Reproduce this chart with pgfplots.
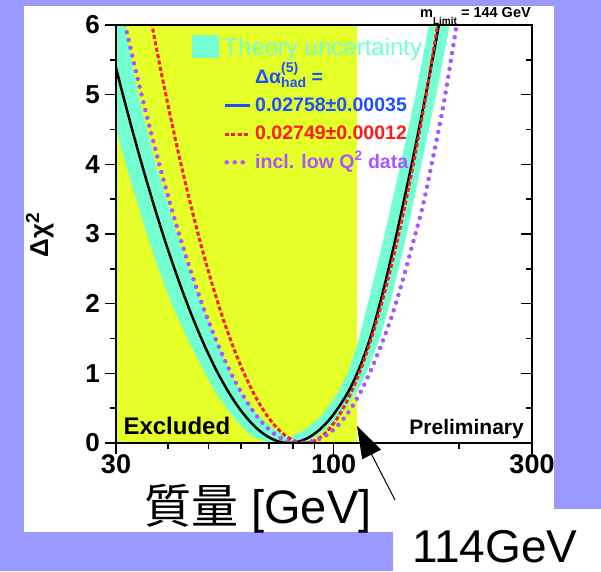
\documentclass[border=0pt]{standalone}
\usepackage{fontspec}
\setmainfont{Liberation Sans}
\newfontfamily\cjk{Noto Sans CJK JP}
\usepackage{pgfplots}
\pgfplotsset{compat=1.18}
\usetikzlibrary{arrows.meta}
\definecolor{lav}{RGB}{153,153,255}
\definecolor{exyel}{RGB}{229,255,40}
\definecolor{band}{RGB}{115,255,210}
\definecolor{cred}{RGB}{255,25,25}
\definecolor{cpurp}{RGB}{170,85,255}
\definecolor{cblue}{RGB}{30,80,255}
\begin{document}
\begin{tikzpicture}
\path[use as bounding box] (0,0) rectangle (601pt,571pt);
\fill[lav] (0,0) rectangle (601pt,571pt);
\fill[white] (24pt,39pt) rectangle (554pt,565pt);
\fill[white] (393pt,0pt) rectangle (601pt,62pt);
\begin{axis}[
  at={(116pt,128pt)}, anchor=south west,
  width=416pt, height=418pt, scale only axis,
  xmode=log, xmin=30, xmax=300, ymin=0, ymax=6,
  xtick={30,100,300}, xticklabels={\textbf{30},\textbf{100},\textbf{300}},
  minor xtick={40,50,60,70,80,90,200},
  ytick={0,1,2,3,4,5,6},
  yticklabels={\textbf{0},\textbf{1},\textbf{2},\textbf{3},\textbf{4},\textbf{5},\textbf{6}},
  minor ytick={0.5,1.5,2.5,3.5,4.5,5.5},
  xtick pos=bottom, ytick pos=left,
  tick align=outside,
  major tick length=11pt, minor tick length=6pt,
  tick style={black, line width=1.5pt},
  axis line style={line width=2pt},
  axis on top,
  xticklabel style={anchor=north, inner sep=0pt, font=\fontsize{27}{27}\selectfont},
  yticklabel style={anchor=east, inner sep=0pt, xshift=-5pt, font=\fontsize{26}{26}\selectfont},
  legend cell align=left,
  legend style={draw=none, fill=none, at={(0,1)}, anchor=north west,
    xshift=107pt, yshift=-10pt, inner sep=0pt, column sep=4pt, row sep=0pt,
    nodes={inner sep=0pt, text height=20pt, text depth=8.25pt}},
]
\addlegendimage{legend image code/.code={\fill[band,overlay] (-33pt,-7.6pt) rectangle (-6.3pt,14.1pt); \path[draw=none,fill=none] (0pt,0pt) -- (25pt,0pt);}}
\addlegendentry[text=band, font=\fontsize{24}{24}\selectfont]{\hspace*{-31.8pt}Theory uncertainty}
\addlegendimage{legend image code/.code={\path[draw=none,fill=none] (0pt,0pt) -- (25pt,0pt);}}
\addlegendentry[text=cblue, font=\fontsize{19.5}{19.5}\selectfont\bfseries]{Δα\rlap{\raisebox{11pt}{\fontsize{14}{14}\selectfont (5)}}\raisebox{-4pt}{\fontsize{14}{14}\selectfont had} =}
\addlegendimage{legend image code/.code={\draw[cblue, line width=3pt] (0pt,0pt) -- (25pt,0pt);}}
\addlegendentry[text=cblue, font=\fontsize{19.5}{19.5}\selectfont\bfseries]{0.02758±0.00035}
\addlegendimage{legend image code/.code={\draw[cred, line width=3pt, dash pattern=on 4pt off 2.5pt] (0pt,0pt) -- (25pt,0pt);}}
\addlegendentry[text=cred, font=\fontsize{19.5}{19.5}\selectfont\bfseries]{0.02749±0.00012}
\addlegendimage{legend image code/.code={\draw[cpurp, line width=4.5pt, line cap=round, dash pattern=on 0pt off 8pt] (2pt,0pt) -- (20pt,0pt);}}
\addlegendentry[text=cpurp, font=\fontsize{19.5}{19.5}\selectfont\bfseries]{incl. low Q\textsuperscript{2} data}

% excluded region
\addplot[fill=exyel, draw=none, forget plot] coordinates {(30,0) (114,0) (114,6) (30,6) (30,0)};
% theory uncertainty band
\addplot[fill=band, draw=none, forget plot] coordinates {
(30,6) (30,4.506) (31.67,4) (35.60,3) (37.96,2.5) (40.84,2) (44.54,1.5) (49.07,1.0)
(52.43,0.7) (56.87,0.4) (60.93,0.2) (63.96,0.1) (67.60,0.03) (72.17,0)
(81.35,0) (86.34,0.03) (91.34,0.1) (96.05,0.2) (104.27,0.4) (112.94,0.7) (120.10,1.0)
(129.27,1.5) (136.61,2) (143.50,2.5) (150.04,3) (162.79,4) (176.57,5) (190.24,6)
(169.49,6) (157.52,5) (144.91,4) (132.73,3) (126.77,2.5) (120.85,2) (115.20,1.5)
(108.12,1.0) (101.88,0.7) (93.89,0.4) (85.99,0.2) (78.79,0.085)
(71.76,0.2) (65.72,0.4) (60.15,0.7) (56.66,1.0) (52.02,1.5) (48.07,2) (44.81,2.5)
(42.02,3) (37.39,4) (33.88,5) (31.53,6) (30,6)};
% black: 0.02758 +- 0.00035
\addplot[black, line width=2.5pt, smooth, forget plot] coordinates {
(30.0,5.386) (31.05,5.037) (32.89,4.475) (34.84,3.941) (36.91,3.434) (39.09,2.957)
(41.41,2.511) (43.86,2.097) (46.46,1.716) (49.21,1.370) (52.13,1.059) (55.22,0.786)
(58.49,0.551) (61.96,0.356) (65.63,0.202) (69.52,0.091) (73.63,0.023) (78,0)
(82.65,0.021) (87.52,0.085) (92.7,0.194) (98.19,0.35) (104.0,0.555) (110.18,0.81)
(116.7,1.148) (123.62,1.58) (130.9,2.126) (138.71,2.75) (146.9,3.418) (155.63,4.12)
(164.85,4.859) (174.62,5.635) (180.76,6.128)};
% red dashed: 0.02749 +- 0.00012
\addplot[cred, line width=3pt, dash pattern=on 4pt off 2.5pt, smooth, forget plot] coordinates {
(36.01,6.223) (38.15,5.451) (40.41,4.727) (42.80,4.05) (45.34,3.422) (48.02,2.844)
(50.87,2.316) (53.88,1.84) (57.08,1.416) (60.46,1.046) (64.04,0.731) (67.84,0.47)
(71.86,0.266) (76.11,0.119) (80.61,0.030) (85.4,0)
(90.46,0.037) (95.82,0.148) (101.50,0.332) (107.51,0.59) (113.88,0.922) (120.63,1.328)
(127.78,1.807) (135.35,2.36) (143.37,2.987) (151.86,3.688) (160.86,4.462) (170.40,5.31)
(180.49,6.232)};
% purple dotted: incl. low Q2 data
\addplot[cpurp, line width=4.5pt, line cap=round, dash pattern=on 0pt off 8pt, smooth, forget plot] coordinates {
(31.23,6.121) (32.70,5.60) (34.64,4.975) (36.70,4.379) (38.87,3.816) (41.17,3.285)
(43.61,2.789) (46.20,2.328) (48.94,1.905) (51.83,1.52) (54.91,1.175) (58.16,0.872)
(61.60,0.611) (65.25,0.395) (69.12,0.224) (73.22,0.101) (77.55,0.025) (82.15,0)
(87.02,0.013) (92.17,0.055) (97.64,0.138) (103.42,0.28) (109.55,0.473) (116.04,0.727)
(122.91,1.041) (130.20,1.408) (137.91,1.812) (146.09,2.30) (154.74,2.843) (163.91,3.402)
(173.63,4.109) (183.91,4.863) (194.81,5.766) (197.52,5.995)};
\node[anchor=base west, inner sep=0pt, font=\fontsize{24}{24}\selectfont\bfseries] at (axis cs:31.24,0.115) {Excluded};
\node[anchor=base east, inner sep=0pt, font=\fontsize{21}{21}\selectfont\bfseries] at (axis cs:287,0.115) {Preliminary};
\end{axis}
\begin{axis}[
  at={(116pt,128pt)}, anchor=south west,
  width=416pt, height=418pt, scale only axis,
  xmode=log, xmin=30, xmax=300, ymin=0, ymax=6,
  axis x line=none, axis y line*=right,
  ytick={0,1,2,3,4,5,6}, yticklabels={},
  minor ytick={0.5,1.5,2.5,3.5,4.5,5.5},
  tick align=inside,
  major tick length=11pt, minor tick length=6pt,
  tick style={black, line width=1.5pt},
  axis line style={line width=2pt},
]
\end{axis}
\node[rotate=90, anchor=base, inner sep=0pt, font=\fontsize{26}{26}\selectfont\bfseries] at (48pt,336pt) {Δχ\raisebox{9pt}{\fontsize{19}{19}\selectfont 2}};
\node[anchor=base west, inner sep=0pt, font=\fontsize{47}{47}\selectfont] at (144pt,48pt) {{\cjk 質量} [GeV]};
\node[anchor=base west, inner sep=0pt, font=\fontsize{46}{46}\selectfont] at (412pt,9pt) {114GeV};
\node[anchor=base west, inner sep=0pt, font=\fontsize{14.5}{14.5}\selectfont\bfseries] at (420pt,553pt) {m\raisebox{-7pt}{\fontsize{10}{10}\selectfont Limit} = 144 GeV};
\draw[line width=1pt, -{Triangle[length=32pt,width=21pt]}] (395pt,71pt) -- (357pt,145pt);
\end{tikzpicture}
\end{document}
